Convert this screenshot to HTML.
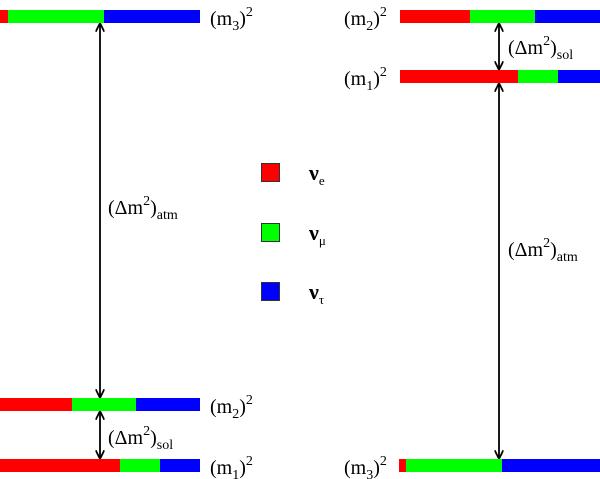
<!DOCTYPE html>
<html><head><style>body{margin:0;background:#fff}svg{display:block}text{font-family:"Liberation Serif",serif;fill:#000}</style></head><body>
<svg width="600" height="479" viewBox="0 0 600 479" xmlns="http://www.w3.org/2000/svg">
<defs><marker id="a" viewBox="0 0 10 10" refX="9" refY="5" markerWidth="5" markerHeight="5" orient="auto-start-reverse"><path d="M0,0 L10,5 L0,10" fill="none" stroke="#000" stroke-width="2"/></marker></defs>
<rect x="0" y="10" width="8" height="13" fill="#f00"/><rect x="8" y="10" width="96" height="13" fill="#0f0"/><rect x="104" y="10" width="96" height="13" fill="#00f"/>
<rect x="0" y="398" width="72" height="13" fill="#f00"/><rect x="72" y="398" width="64" height="13" fill="#0f0"/><rect x="136" y="398" width="64" height="13" fill="#00f"/>
<rect x="0" y="459" width="120" height="13" fill="#f00"/><rect x="120" y="459" width="40" height="13" fill="#0f0"/><rect x="160" y="459" width="40" height="13" fill="#00f"/>
<line x1="100" y1="24" x2="100" y2="397" stroke="#000" stroke-width="1.8" marker-start="url(#a)" marker-end="url(#a)"/>
<line x1="100" y1="412" x2="100" y2="458" stroke="#000" stroke-width="1.8" marker-start="url(#a)" marker-end="url(#a)"/>
<text x="210" y="25" font-size="20">(m<tspan font-size="14" dy="5">3</tspan><tspan dy="-5">)</tspan><tspan font-size="14" dy="-9">2</tspan></text>
<text x="210" y="413" font-size="20">(m<tspan font-size="14" dy="5">2</tspan><tspan dy="-5">)</tspan><tspan font-size="14" dy="-9">2</tspan></text>
<text x="210" y="474" font-size="20">(m<tspan font-size="14" dy="5">1</tspan><tspan dy="-5">)</tspan><tspan font-size="14" dy="-9">2</tspan></text>
<text x="108" y="214" font-size="20">(Δm<tspan font-size="14" dy="-9">2</tspan><tspan dy="9">)</tspan><tspan font-size="14" dy="5">atm</tspan></text>
<text x="108" y="444" font-size="20">(Δm<tspan font-size="14" dy="-9">2</tspan><tspan dy="9">)</tspan><tspan font-size="14" dy="5">sol</tspan></text>
<rect x="261.5" y="163.5" width="18" height="18" fill="#f00" stroke="#333"/>
<rect x="261.5" y="223.5" width="18" height="18" fill="#0f0" stroke="#333"/>
<rect x="261.5" y="282.5" width="18" height="18" fill="#00f" stroke="#333"/>
<text x="309" y="180" font-size="22" font-weight="bold">ν<tspan font-size="13" font-weight="normal" dy="5">e</tspan></text>
<text x="309" y="240" font-size="22" font-weight="bold">ν<tspan font-size="13" font-weight="normal" dy="5">μ</tspan></text>
<text x="309" y="299" font-size="22" font-weight="bold">ν<tspan font-size="13" font-weight="normal" dy="5">τ</tspan></text>
<rect x="400" y="10" width="70" height="13" fill="#f00"/><rect x="470" y="10" width="65" height="13" fill="#0f0"/><rect x="535" y="10" width="65" height="13" fill="#00f"/>
<rect x="400" y="70" width="118" height="13" fill="#f00"/><rect x="518" y="70" width="40" height="13" fill="#0f0"/><rect x="558" y="70" width="42" height="13" fill="#00f"/>
<rect x="399" y="459" width="7" height="13" fill="#f00"/><rect x="406" y="459" width="96" height="13" fill="#0f0"/><rect x="502" y="459" width="98" height="13" fill="#00f"/>
<line x1="499" y1="24" x2="499" y2="69" stroke="#000" stroke-width="1.8" marker-start="url(#a)" marker-end="url(#a)"/>
<line x1="499" y1="84" x2="499" y2="458" stroke="#000" stroke-width="1.8" marker-start="url(#a)" marker-end="url(#a)"/>
<text x="344" y="25" font-size="20">(m<tspan font-size="14" dy="5">2</tspan><tspan dy="-5">)</tspan><tspan font-size="14" dy="-9">2</tspan></text>
<text x="344" y="85" font-size="20">(m<tspan font-size="14" dy="5">1</tspan><tspan dy="-5">)</tspan><tspan font-size="14" dy="-9">2</tspan></text>
<text x="344" y="474" font-size="20">(m<tspan font-size="14" dy="5">3</tspan><tspan dy="-5">)</tspan><tspan font-size="14" dy="-9">2</tspan></text>
<text x="508" y="54" font-size="20">(Δm<tspan font-size="14" dy="-9">2</tspan><tspan dy="9">)</tspan><tspan font-size="14" dy="5">sol</tspan></text>
<text x="508" y="256" font-size="20">(Δm<tspan font-size="14" dy="-9">2</tspan><tspan dy="9">)</tspan><tspan font-size="14" dy="5">atm</tspan></text>
</svg>
</body></html>
